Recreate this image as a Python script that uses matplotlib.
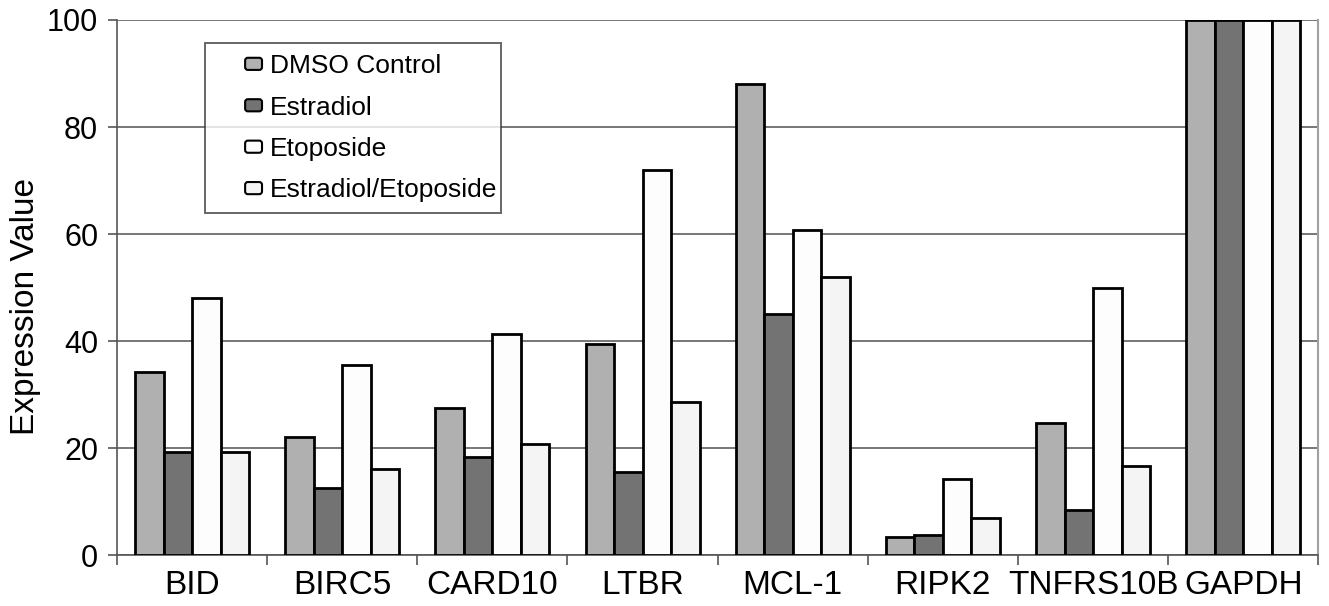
import matplotlib.pyplot as plt
from matplotlib.patches import Patch, FancyBboxPatch
from matplotlib.legend_handler import HandlerPatch
import numpy as np

plt.rcParams['font.family'] = ['Liberation Sans', 'DejaVu Sans']

genes = ['BID', 'BIRC5', 'CARD10', 'LTBR', 'MCL-1', 'RIPK2', 'TNFRS10B', 'GAPDH']
dmso = [34.2, 22.0, 27.5, 39.5, 88.0, 3.3, 24.7, 100]
estradiol = [19.2, 12.5, 18.3, 15.5, 45.0, 3.7, 8.5, 100]
etoposide = [48.0, 35.5, 41.3, 72.0, 60.7, 14.2, 50.0, 100]
estr_etop = [19.2, 16.0, 20.7, 28.6, 52.0, 7.0, 16.6, 100]

series = [('DMSO Control', dmso, '#b0b0b0'),
          ('Estradiol', estradiol, '#737373'),
          ('Etoposide', etoposide, '#fdfdfd'),
          ('Estradiol/Etoposide', estr_etop, '#f4f4f4')]

fig = plt.figure(figsize=(13.29, 6.06), dpi=100)
ax = fig.add_axes([0.088, 0.084, 0.904, 0.883])

x = np.arange(len(genes))
w = 0.19
for i, (name, vals, col) in enumerate(series):
    ax.bar(x + (i - 1.5) * w, vals, width=w, color=col, edgecolor='black',
           linewidth=2, zorder=3)

ax.set_xlim(-0.5, len(genes) - 0.5)
ax.set_ylim(0, 100)
ax.set_yticks(range(0, 101, 20))
ax.yaxis.grid(True, color='#606060', linewidth=1.2, zorder=0)
ax.set_xticks(x)
ax.set_xticklabels(genes, fontsize=24)
ax.tick_params(axis='x', length=0, pad=11)
ax.set_xticks(np.arange(-0.5, len(genes), 1), minor=True)
ax.tick_params(axis='x', which='minor', length=7, width=1.2, color='#555555')
ax.tick_params(axis='y', labelsize=22, length=6.5, width=1.2, color='#555555', pad=7)
ax.set_ylabel('Expression Value', fontsize=24, labelpad=4, y=0.465)

ax.spines['top'].set_visible(False)
ax.spines['right'].set_color('#a0a0a0')
ax.spines['right'].set_linewidth(1.5)
for s in ['left', 'bottom']:
    ax.spines[s].set_color('#555555')
    ax.spines[s].set_linewidth(1.2)


# small rounded square sitting at the right end of the handle area
def small_box(legend, orig_handle, xdescent, ydescent, width, height, fontsize):
    bw, bh = 0.64 * fontsize, 0.46 * fontsize
    return FancyBboxPatch((-xdescent + width - bw, -ydescent + (height - bh) / 2), bw, bh,
                          boxstyle='round,pad=0,rounding_size=2')


handles = [Patch(facecolor=col, edgecolor='black', linewidth=1.5, label=name)
           for name, vals, col in series]
leg = ax.legend(handles=handles, handler_map={Patch: HandlerPatch(patch_func=small_box)},
                loc='upper left', bbox_to_anchor=(0.0733, 0.5, 0.2464, 0.457),
                mode='expand', borderaxespad=0,
                fontsize=19, frameon=True, fancybox=False, edgecolor='#333333',
                handlelength=1.74, handleheight=0.7, handletextpad=0.3,
                labelspacing=0.66, borderpad=0.42)
leg.get_frame().set_linewidth(1.3)
leg.set_zorder(5)

fig.savefig('out.png', dpi=100)
